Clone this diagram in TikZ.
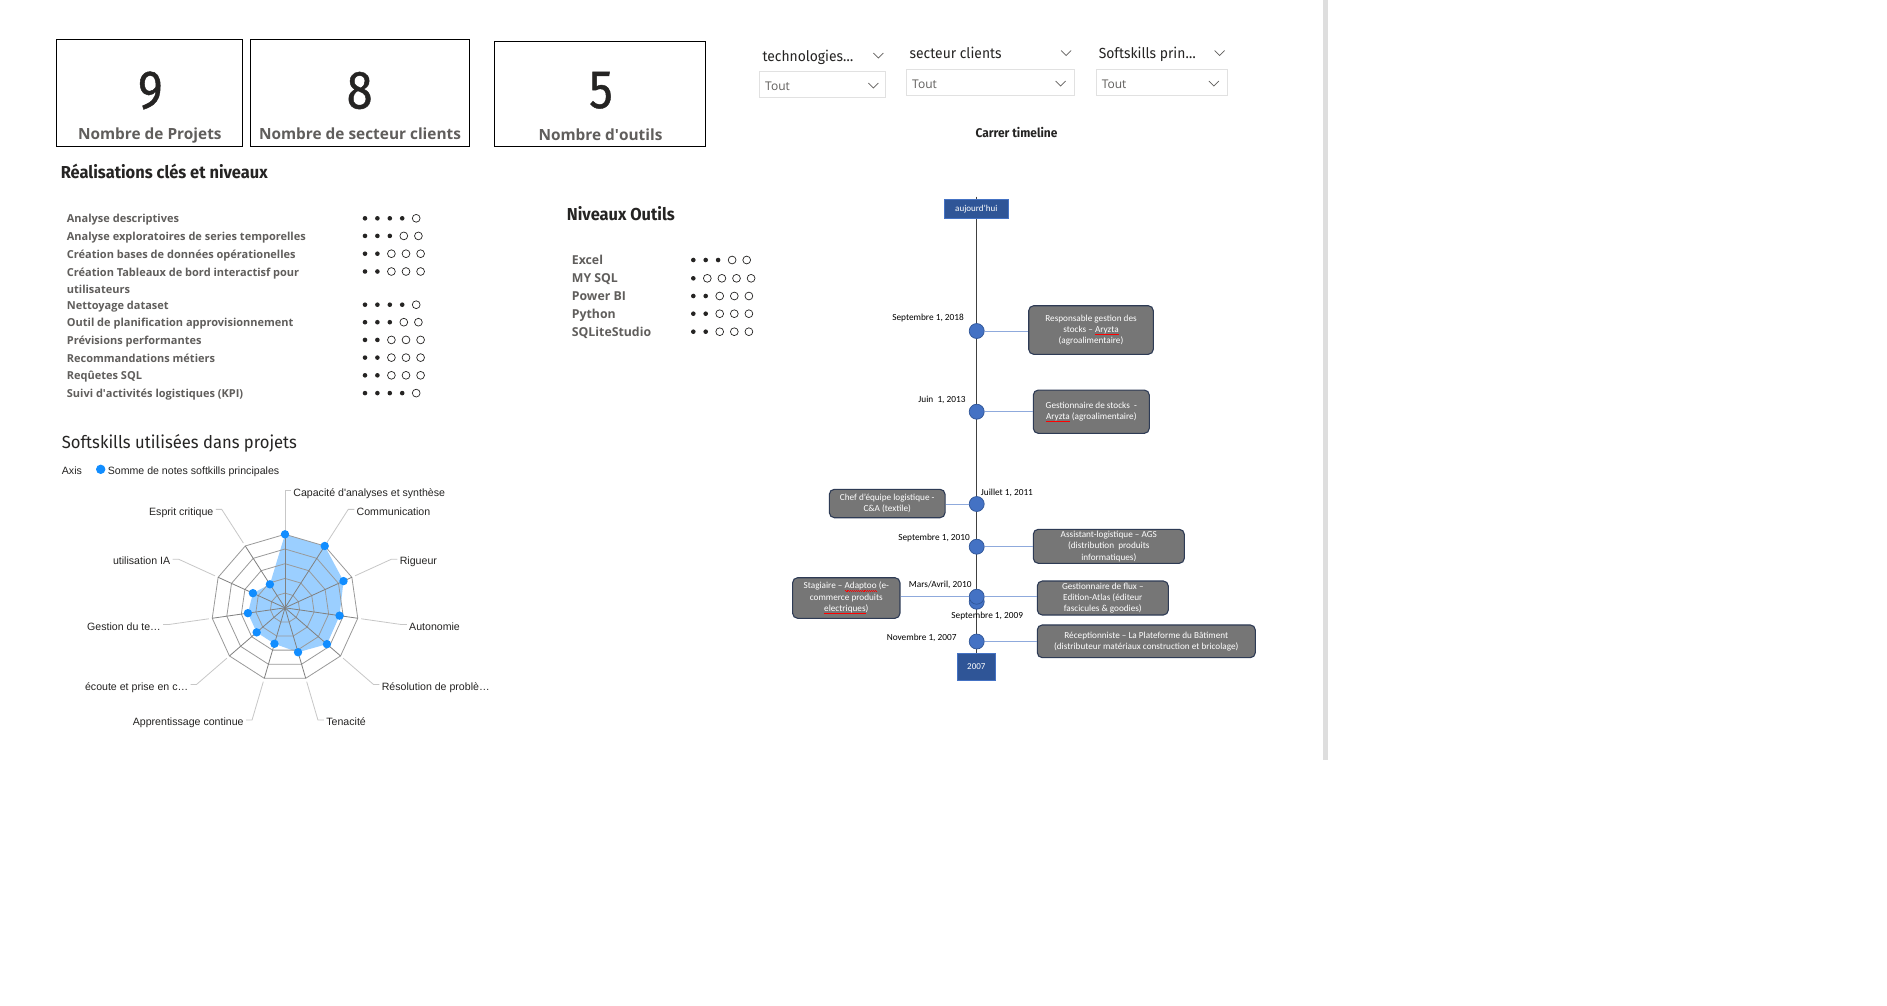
\documentclass[tikz,border=0pt]{standalone}
\usepackage{fontspec}
\usetikzlibrary{positioning,calc}
\setmainfont{Open Sans}
\newfontfamily\din{Fira Sans}[FakeStretch=0.95]
\newfontfamily\dinchiffre{Fira Sans}[FakeStretch=0.87, FakeBold=0.8]
\newfontfamily\arialf{Liberation Sans}
\newfontfamily\calib{Carlito}
\definecolor{pbgris}{HTML}{605E5C}
\definecolor{pbnoir}{HTML}{252423}
\definecolor{pbbleu}{HTML}{118DFF}
\definecolor{pbcadre}{HTML}{E1E1E1}
\definecolor{tlbleu}{HTML}{4472C4}
\definecolor{tlfonce}{HTML}{2F5597}
\definecolor{tlgris}{HTML}{767676}
\definecolor{tlbord}{HTML}{2E3B55}
\definecolor{tllien}{HTML}{8FAADC}
% souligne ondule rouge (correcteur)
\newcommand{\faute}[1]{\setbox0\hbox{#1}\rlap{\color{red}\hbox to\wd0{\xleaders\hbox{\vrule width0.9pt height-1.3pt depth1.8pt\vrule width0.9pt height-1.9pt depth2.4pt}\hfill}}#1}
% niveau : x, y, nombre de points pleins
\newcommand{\niveau}[3]{%
  \foreach \i in {1,...,5}{%
    \ifnum\i>#3\relax
      \draw[rond] ({#1+12.4*(#3-1)+14+14.6*(\i-#3-1)},#2) circle (3.9);
    \else
      \fill[pbnoir] ({#1+12.4*(\i-1)},#2) circle (2.3);
    \fi}}
\newcommand{\chevron}[2]{\draw[chev] ({#1-5},{#2-2.5}) -- (#1,{#2+2.5}) -- ({#1+5},{#2-2.5});}

\begin{document}
\begin{tikzpicture}[x=1pt, y=-1pt,
    carte/.style={draw=black, line width=1.1pt, minimum height=107.4pt},
    chiffre/.style={font=\dinchiffre\fontsize{54}{54}\selectfont, text=pbnoir, inner sep=0pt},
    legende/.style={font=\bfseries\fontsize{15.4}{15.4}\selectfont, text=pbgris, inner sep=0pt, anchor=mid, yshift=-3.5pt},
    titre/.style={font=\din\bfseries\fontsize{17.3}{17.3}\selectfont, text=pbnoir, inner sep=0pt, anchor=mid west, yshift=-3pt},
    item/.style={font=\bfseries\fontsize{11}{13}\selectfont, text=pbgris, inner sep=0pt, anchor=mid west, yshift=-2pt},
    outil/.style={item, font=\bfseries\fontsize{12.3}{13}\selectfont},
    rond/.style={draw=pbnoir, line width=0.7pt},
    entete/.style={font=\din\fontsize{14.6}{14.6}\selectfont, text=pbnoir, inner sep=0pt, anchor=mid west, yshift=-1pt},
    liste/.style={draw=pbcadre, line width=0.9pt, inner sep=0pt, minimum height=26.7pt},
    tout/.style={font=\fontsize{12}{12}\selectfont, text=pbgris, inner sep=0pt, anchor=mid west, yshift=-1.5pt},
    chev/.style={draw=pbgris, line width=0.7pt},
    etiq/.style={font=\arialf\fontsize{10.6}{10.6}\selectfont, text=pbnoir, inner sep=0pt, yshift=-3pt},
    anneau/.style={draw=black!40, line width=0.8pt},
    rayon/.style={draw=black!50, line width=0.8pt},
    guide/.style={draw=black!22, line width=0.8pt},
    zone/.style={fill=pbbleu, fill opacity=0.42},
    axe/.style={draw=black!75, line width=0.9pt},
    etiqbleue/.style={fill=tlfonce, draw=tlbleu, line width=0.6pt, text=white, inner sep=0pt, font=\calib\fontsize{9}{9}\selectfont},
    evt/.style={circle, fill=tlbleu, draw=tlfonce, line width=0.7pt, minimum size=15pt, inner sep=0pt},
    boite/.style={rounded corners=5pt, fill=tlgris, draw=tlbord, line width=1.1pt, text=white, align=center, inner sep=0pt, font=\calib\fontsize{9.2}{11.3}\selectfont},
    date/.style={font=\calib\fontsize{9.3}{9.3}\selectfont, text=black, inner sep=0pt},
    lien/.style={draw=tllien, line width=1pt}]
  \fill[white] (0,0) rectangle (1887,1005);
  \useasboundingbox (0,0) rectangle (1887,1005);

  % cartes
  \node[carte, minimum width=185.6pt] (carte1) at (149.5,93) {};
  \node[carte, minimum width=219.1pt] (carte2) at (360.2,93) {};
  \node[carte, minimum width=210.8pt, minimum height=105.4pt] (carte3) at (600.3,94) {};
  \node[chiffre] (nb1) at (150.3,90.5) {9};
  \node[chiffre] (nb2) at (359.6,90.5) {8};
  \node[chiffre] (nb3) at (601,90.3) {5};
  \node[legende] (lb1) at (149.8,133.3) {Nombre de Projets};
  \node[legende] (lb2) at (360,133.3) {Nombre de secteur clients};
  \node[legende] (lb3) at (600.5,134) {Nombre d\textquotesingle outils};

  % segments (filtres)
  \node[entete] (f1) at (762.3,57.5) {technologies…};
  \chevron{878.3}{55.5}
  \node[liste, minimum width=126.4pt] (s1) at (822.5,84.3) {};
  \node[tout] (t1) at (765,86.3) {Tout};
  \chevron{873.3}{85.5}
  \node[entete] (f2) at (909.5,55) {secteur clients};
  \chevron{1066}{53}
  \node[liste, minimum width=167.5pt] (s2) at (990.3,82.3) {};
  \node[tout] (t2) at (912,84.5) {Tout};
  \chevron{1060.7}{83.5}
  \node[entete] (f3) at (1098.6,55) {Softskills prin…};
  \chevron{1219.5}{53}
  \node[liste, minimum width=131pt] (s3) at (1161.5,82.3) {};
  \node[tout] (t3) at (1101.6,84.5) {Tout};
  \chevron{1213.8}{83.5}

  % realisations
  \node[titre] (tit1) at (60.6,173.3) {Réalisations clés et niveaux};
  \foreach \txt/\y/\n [count=\i] in {Analyse descriptives/218.3/4,
      Analyse exploratoires de series temporelles/235.9/3,
      Création bases de données opérationelles/253.7/2,
      Création Tableaux de bord interactisf pour/271.5/2,
      Nettoyage dataset/304.7/4,
      Outil de planification approvisionnement/322.2/3,
      Prévisions performantes/339.9/2,
      Recommandations métiers/357.6/2,
      Reqûetes SQL/375.3/2,
      Suivi d\textquotesingle activités logistiques (KPI)/393.1/4}{
    \node[item] (rea\i) at (66.7,\y) {\txt};
    \niveau{365}{\y}{\n}
  }
  \node[item] (rea4b) at (66.7,288.6) {utilisateurs};

  % outils
  \node[titre] (tit2) at (566.7,215) {Niveaux Outils};
  \foreach \txt/\y/\n [count=\i] in {Excel/260/3, MY SQL/278.3/1, Power BI/296/2,
      Python/313.7/2, SQLiteStudio/331.7/2}{
    \node[outil] (out\i) at (571.7,\y) {\txt};
    \niveau{693.3}{\y}{\n}
  }

  % softskills (radar)
  \node[titre, font=\din\fontsize{17.5}{17.5}\selectfont] (tit3) at (61.7,442.7) {Softskills utilisées dans projets};
  \node[etiq, anchor=mid west] (axis) at (61.7,469.3) {Axis};
  \fill[pbbleu] (100.7,469.3) circle (4.7);
  \node[etiq, anchor=mid west] (leg) at (107.6,469.3) {Somme de notes softkills principales};
  \begin{scope}[shift={(285,607.8)}]
    \foreach \v [count=\k from 0] in {1,1,.875,.75,.755,.63,.51,.51,.51,.48,.38}
      \coordinate (p\k) at ({-90+\k*360/11}:{73.5*\v});
    \fill[zone] (p0) \foreach \k in {1,...,10}{-- (p\k)} -- cycle;
    \foreach \r in {1,...,5}
      \draw[anneau] (-90:{14.7*\r}) \foreach \k in {1,...,10}{-- ({-90+\k*360/11}:{14.7*\r})} -- cycle;
    \foreach \k in {0,...,10}
      \draw[rayon] (0,0) -- ({-90+\k*360/11}:73.5);
    \foreach \k/\lab in {0/{Capacité d\textquotesingle analyses et synthèse}, 1/Communication, 2/Rigueur,
        3/Autonomie, 4/{Résolution de problè…}, 5/Tenacité, 6/Apprentissage continue,
        7/{écoute et prise en c…}, 8/{Gestion du te…}, 9/utilisation IA, 10/Esprit critique}{
      \pgfmathsetmacro\ang{-90+\k*360/11}
      \ifnum\k<6
        \draw[guide] (\ang:77) -- (\ang:117) -- ++(6,0) node[etiq, anchor=mid west, xshift=2pt] (ax\k) {\lab};
      \else
        \draw[guide] (\ang:77) -- (\ang:117) -- ++(-6,0) node[etiq, anchor=mid east, xshift=-2pt] (ax\k) {\lab};
      \fi
    }
    \foreach \k in {0,...,10}
      \fill[pbbleu] (p\k) circle (4.2);
  \end{scope}

  % chronologie
  \node[titre, anchor=mid, yshift=0pt, font=\din\bfseries\fontsize{12.6}{12.6}\selectfont] (tit4) at (1016.5,131.7) {Carrer timeline};
  \coordinate (haut) at (976.7,196.7);
  \coordinate (bas) at (976.7,654);
  \draw[axe] (haut) -- (bas);
  \node[etiqbleue, minimum width=64pt, minimum height=19pt] (auj) at (976.3,208.8) {aujourd’hui};
  \node[etiqbleue, minimum width=38.7pt, minimum height=27pt] (an07) at (976.3,666.7) {2007};

  \node[evt] (e18) at (976.7,331) {};
  \node[evt] (e13) at (976.7,411.7) {};
  \node[evt] (e11) at (976.7,504) {};
  \node[evt] (e10) at (976.7,546.7) {};
  \node[evt] (e09) at (976.7,601.7) {};
  \node[evt] (e10b) at (976.7,596.7) {};
  \node[evt] (e07) at (976.7,641.5) {};

  \node[date, anchor=mid east] (d18) at (964,317.7) {Septembre 1, 2018};
  \node[date, anchor=mid east] (d13) at (965.7,400) {Juin\ \ 1, 2013};
  \node[date, anchor=mid west] (d11) at (980.7,492.7) {Juillet 1, 2011};
  \node[date, anchor=mid east] (d10) at (970,538.3) {Septembre 1, 2010};
  \node[date, anchor=mid east] (d10b) at (971.7,585) {Mars/Avril, 2010};
  \node[date, anchor=mid] (d09) at (987.2,616) {Septembre 1, 2009};
  \node[date, anchor=mid east] (d07) at (956.7,638.3) {Novembre 1, 2007};

  \node[boite, minimum width=124.6pt, minimum height=48.6pt] (b18) at (1091,330) {Responsable gestion des\\stocks – \faute{Aryzta}\\(agroalimentaire)};
  \node[boite, minimum width=116pt, minimum height=43.3pt] (b13) at (1091.3,411.7) {Gestionnaire de stocks\ \ -\\\faute{Aryzta} (agroalimentaire)};
  \node[boite, minimum width=115.7pt, minimum height=28.4pt] (b11) at (887.2,503.5) {Chef d’équipe logistique -\\C\&A (textile)};
  \node[boite, minimum width=151pt, minimum height=34pt] (b10) at (1108.8,546.3) {Assistant-logistique – AGS\\(distribution\ \ produits\\informatiques)};
  \node[boite, minimum width=107.3pt, minimum height=40.6pt] (b10s) at (846.3,598) {Stagiaire – \faute{Adaptoo} (e-\\commerce produits\\\faute{electriques})};
  \node[boite, minimum width=131pt, minimum height=34pt] (b09) at (1102.8,598) {Gestionnaire de flux –\\Edition-Atlas (éditeur\\fascicules \& goodies)};
  \node[boite, minimum width=218pt, minimum height=32.7pt] (b07) at (1146.3,641.3) {Réceptionniste – La Plateforme du Bâtiment\\(distributeur matériaux construction et bricolage)};

  \draw[lien] (e18) -- (e18 -| b18.west);
  \draw[lien] (e13) -- (e13 -| b13.west);
  \draw[lien] (e11) -- (e11 -| b11.east);
  \draw[lien] (e10) -- (e10 -| b10.west);
  \draw[lien] (e10b) -- (e10b -| b10s.east);
  \draw[lien] (e10b) -- (e10b -| b09.west);
  \draw[lien] (e07) -- (e07 -| b07.west);

  % separateur de page
  \fill[black!13] (1323.3,0) rectangle (1327.7,760);
\end{tikzpicture}
\end{document}
